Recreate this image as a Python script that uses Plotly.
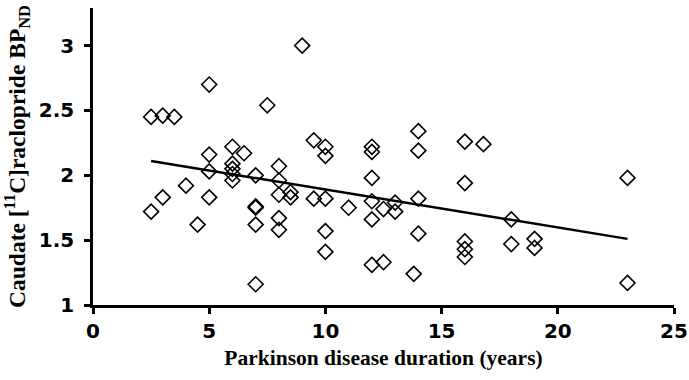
import plotly.graph_objects as go

# Disease duration (years) and caudate BPND values
duration = [2.5, 2.5, 3, 3, 3.5, 4, 4.5,
            5, 5, 5, 5,
            6, 6, 6, 6, 6, 6.5,
            7, 7, 7, 7, 7, 7.5,
            8, 8, 8, 8, 8, 8.5, 8.5,
            9, 9.5, 9.5,
            10, 10, 10, 10, 10, 11,
            12, 12, 12, 12, 12, 12, 12.5, 12.5,
            13, 13, 13.8,
            14, 14, 14, 14,
            16, 16, 16, 16, 16, 16.8,
            18, 18, 19, 19, 23, 23]
bp_nd = [2.45, 1.72, 2.46, 1.83, 2.45, 1.92, 1.62,
         2.70, 2.16, 2.03, 1.83,
         2.22, 2.09, 2.05, 2.01, 1.96, 2.17,
         2.00, 1.76, 1.75, 1.62, 1.16, 2.54,
         2.07, 1.96, 1.85, 1.67, 1.58, 1.87, 1.83,
         3.00, 2.27, 1.82,
         2.22, 2.15, 1.82, 1.57, 1.41, 1.75,
         2.22, 2.18, 1.98, 1.80, 1.66, 1.31, 1.74, 1.33,
         1.79, 1.72, 1.24,
         2.34, 2.19, 1.82, 1.55,
         2.26, 1.94, 1.49, 1.43, 1.37, 2.24,
         1.66, 1.47, 1.51, 1.44, 1.98, 1.17]

# Linear trend line end points
trend_x = [2.5, 23]
trend_y = [2.11, 1.51]

x_ticks = [0, 5, 10, 15, 20, 25]
y_ticks = [1, 1.5, 2, 2.5, 3]
y_tick_labels = ["1", "1.5", "2", "2.5", "3"]

fig = go.Figure()
fig.add_trace(go.Scatter(
    x=duration, y=bp_nd, mode="markers",
    marker=dict(symbol="diamond-open", size=11.5, color="black",
                line=dict(width=1.6, color="black")),
    showlegend=False, hoverinfo="skip"))
fig.add_trace(go.Scatter(
    x=trend_x, y=trend_y, mode="lines",
    line=dict(color="black", width=2.5),
    showlegend=False, hoverinfo="skip"))

tick_font = dict(family="DejaVu Sans", size=20, color="black")
x_title_font = dict(family="Liberation Serif", size=21.5, color="black")
y_title_font = dict(family="Liberation Serif", size=23.5, color="black")

fig.update_layout(
    width=689, height=380,
    margin=dict(l=93, r=15, t=8, b=75),
    paper_bgcolor="white", plot_bgcolor="white",
    xaxis=dict(range=[0, 25], tickvals=x_ticks,
               ticktext=["<b>%s</b>" % v for v in x_ticks],
               showgrid=False, zeroline=False, showline=True, linecolor="black",
               linewidth=2.5, ticks="outside", ticklen=6, tickwidth=2.5,
               tickcolor="black", tickfont=tick_font, automargin=False,
               title=dict(text="<b>Parkinson disease duration (years)</b>",
                          font=x_title_font, standoff=9)),
    yaxis=dict(range=[1, 3.29], tickvals=y_ticks,
               ticktext=["<b>%s</b>" % t for t in y_tick_labels],
               showgrid=False, zeroline=False, showline=True, linecolor="black",
               linewidth=2.5, ticks="outside", ticklen=6, tickwidth=2.5,
               tickcolor="black", tickfont=tick_font, ticklabelstandoff=6,
               automargin=False,
               title=dict(text="<b>Caudate [<sup>11</sup>C]raclopride BP<sub>ND</sub></b>",
                          font=y_title_font, standoff=8)),
)

# remove the default page margin so the 689x380 figure fills the window exactly
fig.write_html(
    "out.html",
    config={"displayModeBar": False},
    post_script=("document.body.style.margin='0';"
                 "document.body.style.overflow='hidden';"
                 "document.documentElement.style.overflow='hidden';"),
)
